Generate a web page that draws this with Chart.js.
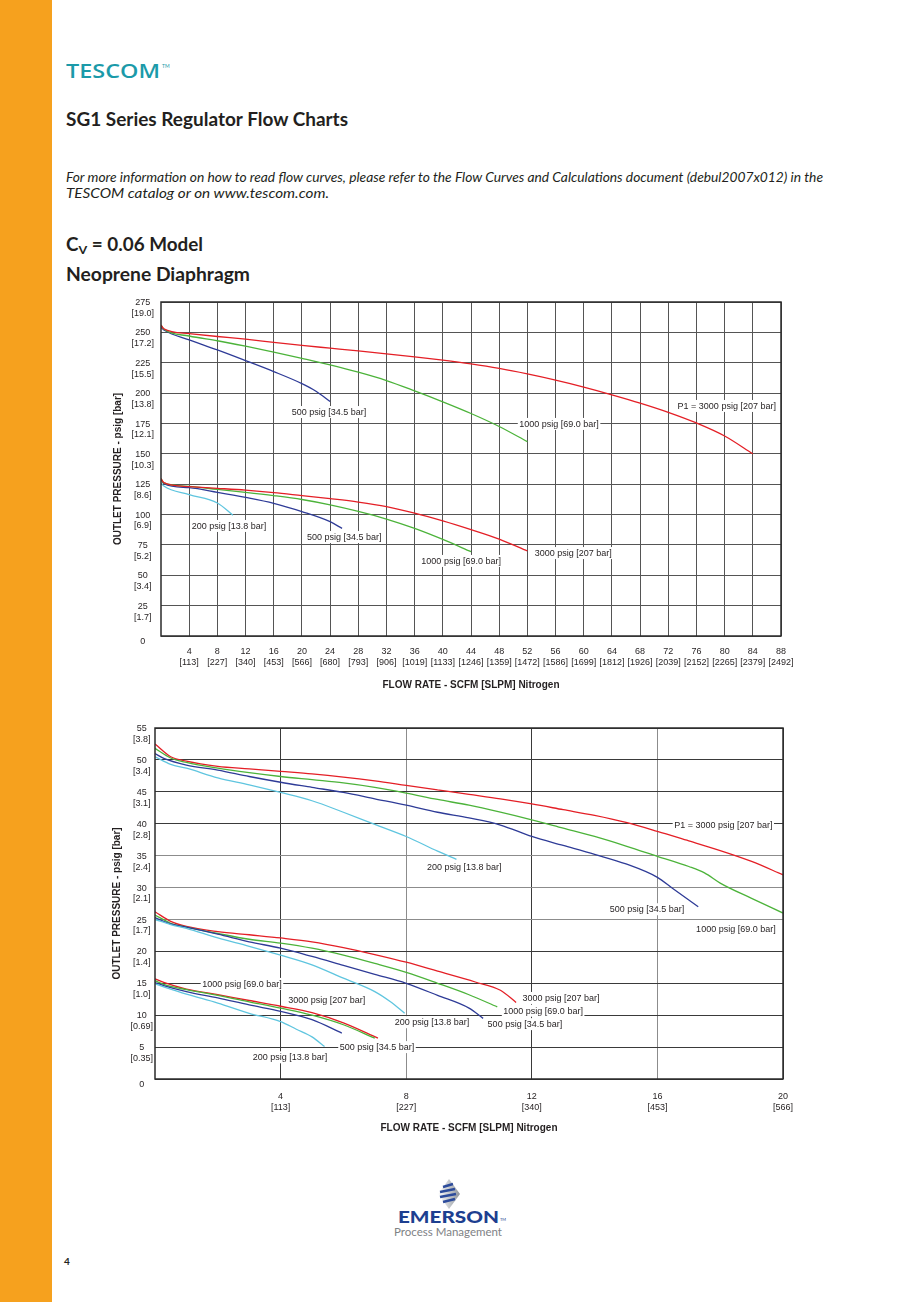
<!DOCTYPE html>
<html>
<head>
<meta charset="utf-8">
<script src="https://cdn.jsdelivr.net/npm/chart.js@4.4.0/dist/chart.umd.min.js"></script>
<style>
html, body { margin: 0; padding: 0; background: #fff; }
body { width: 920px; height: 1302px; position: relative; overflow: hidden; font-family: Lato, "Noto Sans", sans-serif; color: #231f20; }
#stripe { position: absolute; left: 0; top: 0; width: 52px; height: 1302px; background: #f6a11e; }
.t { position: absolute; white-space: nowrap; line-height: 1; transform-origin: 0 0; }
.h { font-weight: 700; font-size: 18px; }
.p { font-style: italic; font-size: 14px; font-weight: 400; }
.logo { font-family: "Open Sans", sans-serif; font-weight: 600; font-size: 20px; color: #1b9aa9; }
.box { position: absolute; }
</style>
</head>
<body>
<div id="stripe"></div>

<div class="t logo" style="left:66px;top:61px" data-w="94">TESCOM</div>
<div class="t" style="left:162px;top:64px;font-size:5px;color:#1b9aa9">TM</div>

<div class="t h" style="left:66px;top:110px" data-w="282">SG1 Series Regulator Flow Charts</div>

<div class="t p" style="left:66px;top:170px" data-w="757">For more information on how to read flow curves, please refer to the Flow Curves and Calculations document (debul2007x012) in the</div>
<div class="t p" style="left:66px;top:186px" data-w="263">TESCOM catalog or on www.tescom.com.</div>

<div class="t h" style="left:66px;top:235px" data-w="137">C<span style="font-size:12px;position:relative;top:3px">V</span> = 0.06 Model</div>
<div class="t h" style="left:66px;top:265px" data-w="184">Neoprene Diaphragm</div>

<div class="box" style="left:100px;top:292px;width:720px;height:410px"><canvas id="c1"></canvas></div>
<div class="box" style="left:100px;top:718px;width:720px;height:420px"><canvas id="c2"></canvas></div>

<svg style="position:absolute;left:436px;top:1178px" width="26" height="33">
  <defs>
    <linearGradient id="dg" x1="0" x2="1" y1="0" y2="0">
      <stop offset="0" stop-color="#ffffff"/>
      <stop offset="1" stop-color="#8e949c"/>
    </linearGradient>
  </defs>
  <polygon points="13,1 24,16 13,31 2,16" fill="url(#dg)"/>
  <g stroke="#2c4b9b" stroke-width="2.4">
    <line x1="7" y1="9" x2="17" y2="6"/>
    <line x1="4" y1="14" x2="19" y2="11"/>
    <line x1="4" y1="19" x2="20" y2="16"/>
    <line x1="7" y1="24" x2="19" y2="21"/>
  </g>
</svg>
<div class="t" style="left:398px;top:1208px;font-size:17px;font-weight:900;color:#1d3f90" data-w="101">EMERSON</div>
<div class="t" style="left:500px;top:1218px;font-size:4px;color:#1d3f90">TM</div>
<div class="t" style="left:394px;top:1226px;font-size:12px;color:#808285" data-w="108">Process Management</div>

<div class="t" style="left:64px;top:1256px;font-size:10px;font-weight:700">4</div>

<script>
// colours of the four inlet pressures
const RED = '#e41f26';
const GREEN = '#4cb33a';
const BLUE = '#2e3b97';
const CYAN = '#5fc5df';

// ---- chart 1 : 0-88 SCFM, 0-275 psig ----
const C1_SLPM = [113, 227, 340, 453, 566, 680, 793, 906, 1019, 1133, 1246, 1359, 1472, 1586, 1699, 1812, 1926, 2039, 2152, 2265, 2379, 2492];
const C1_BAR = ['', '1.7', '3.4', '5.2', '6.9', '8.6', '10.3', '12.1', '13.8', '15.5', '17.2', '19.0'];

const c1Red250 = [[0,256],[0.4,253],[4,249],[8,246.6],[12,244.4],[16,241.8],[20,239.3],[24,237],[28,234.7],[32,232.3],[36,229.8],[40,227.1],[44,224],[48,220.3],[52,215.8],[56,210.7],[60,205],[64,198.6],[68,191.8],[72,184.2],[76,175.4],[80,164.7],[84,150]];
const c1Green250 = [[0,256],[0.4,252.8],[4,247],[8,243.1],[12,238.6],[16,233.8],[20,228.6],[24,223.2],[28,217.2],[32,210.3],[36,201.8],[40,192.8],[44,183.2],[48,172.5],[52,160]];
const c1Blue250 = [[0,254],[0.4,252],[4,243.8],[8,235.5],[12,226.7],[16,217.7],[20,207.8],[22,201.5],[24,193]];
const c1Red125 = [[0,129.5],[0.4,126.3],[4,123],[8,121.6],[12,120.1],[16,118.1],[20,115.6],[24,113.1],[28,110.3],[32,106.6],[36,101.2],[40,94.8],[44,87.6],[48,79.8],[52,70]];
const c1Green125 = [[0,129.5],[0.4,126],[4,123.2],[8,120.7],[12,118.3],[16,115.6],[20,112.4],[24,108],[28,102.6],[32,96.3],[36,88.6],[40,79.5],[44,69.4]];
const c1Blue125 = [[0,129],[0.4,125.5],[4,122.1],[8,118.3],[12,114.1],[16,109.2],[20,102.4],[24,94.1],[25.7,88.6]];
const c1Cyan125 = [[0,126],[0.4,123.5],[4,116.4],[8,109.5],[10.2,99.5]];

const C1_NOTES = [
  ['500 psig [34.5 bar]', 23.85, 184.4],
  ['1000 psig [69.0 bar]', 56.5, 174.6],
  ['P1 = 3000 psig [207 bar]', 80.3, 189.4],
  ['200 psig [13.8 bar]', 9.65, 90.6],
  ['500 psig [34.5 bar]', 26, 81.5],
  ['1000 psig [69.0 bar]', 42.6, 61.8],
  ['3000 psig [207 bar]', 58.5, 68.3]
];

// ---- chart 2 : 0-20 SCFM, 0-55 psig ----
const C2_SLPM = [113, 227, 340, 453, 566];
const C2_BAR = ['', '0.35', '0.69', '1.0', '1.4', '1.7', '2.1', '2.4', '2.8', '3.1', '3.4', '3.8'];

const c2Red50 = [[0,52.5],[0.5,50.5],[1,49.8],[2,49],[3,48.6],[4,48.2],[5,47.8],[6,47.3],[7,46.7],[8,46],[9,45.3],[10,44.6],[11,43.9],[12,43.1],[13,42.2],[14,41.3],[15,40.2],[16,38.8],[17,37.3],[18,35.8],[19,34.1],[20,32]];
const c2Green50 = [[0,51.8],[0.5,50.3],[1,49.6],[2,48.7],[3,48],[4,47.4],[5,46.9],[6,46.4],[7,45.7],[8,44.8],[9,43.8],[10,42.9],[11,41.8],[12,40.6],[13,39.3],[14,38],[15,36.5],[16,34.9],[17,33.3],[17.5,32.3],[18,30.7],[19,28.3],[20,26]];
const c2Blue50 = [[0,51],[0.3,50.2],[1,49.2],[2,48.4],[3,47.4],[4,46.5],[5,45.7],[6,44.9],[7,43.9],[8,42.9],[9,41.8],[10,40.9],[11,39.8],[12,38],[13,36.6],[14,35.2],[15,33.7],[16,31.6],[16.5,29.8],[17.3,27]];
const c2Cyan50 = [[0,50.5],[0.5,49.3],[1,48.7],[2,47.2],[3,46.1],[4,44.9],[5,43.6],[6,41.8],[7,39.9],[8,38],[9,35.7],[9.6,34.4]];
const c2Red25 = [[0,26.2],[0.5,24.7],[1,23.9],[2,23.1],[3,22.6],[4,22.1],[5,21.5],[6,20.6],[7,19.5],[8,18.3],[9,16.9],[10.2,15.2],[11,13.9],[11.5,12]];
const c2Green25 = [[0,25.7],[0.5,24.4],[1,23.8],[2,22.8],[3,21.9],[4,21.3],[5,20.5],[6,19.4],[7,18.1],[8,16.7],[9,15],[10,13.2],[10.9,11.3]];
const c2Blue25 = [[0,25.3],[0.5,24.3],[1,23.8],[2,22.7],[3,21.5],[4,20.5],[5,19.2],[6,17.8],[7,16.4],[8,15],[9,13.1],[10,11.1],[10.45,9.5]];
const c2Cyan25 = [[0,25],[0.5,24.2],[1,23.6],[2,22.1],[3,20.8],[4,19.4],[5,17.9],[6,15.8],[7,13.7],[7.5,12.1],[7.95,10.3]];
const c2Red15 = [[0,15.7],[0.3,15.1],[1,14.1],[2,13.2],[3,12.3],[4,11.4],[5,10.4],[6,8.8],[7.1,6.4]];
const c2Green15 = [[0,15.4],[0.3,14.8],[1,14],[2,13.1],[3,12.1],[4,11.1],[5,10],[6,8.5],[7,6.4]];
const c2Blue15 = [[0,15.1],[0.3,14.6],[1,13.7],[2,12.7],[3,11.6],[4,10.6],[5,9.3],[5.95,7.2]];
const c2Cyan15 = [[0,14.9],[0.3,14.4],[1,13.3],[2,11.9],[3,10.3],[4,9],[4.5,7.8],[5,6.6],[5.4,5.1]];

const C2_NOTES = [
  ['P1 = 3000 psig [207 bar]', 18.1, 39.8],
  ['200 psig [13.8 bar]', 9.85, 33.2],
  ['500 psig [34.5 bar]', 15.67, 26.6],
  ['1000 psig [69.0 bar]', 18.5, 23.5],
  ['1000 psig [69.0 bar]', 2.77, 14.9],
  ['3000 psig [207 bar]', 5.47, 12.4],
  ['200 psig [13.8 bar]', 8.82, 8.9],
  ['500 psig [34.5 bar]', 7.07, 5.0],
  ['200 psig [13.8 bar]', 4.3, 3.4],
  ['3000 psig [207 bar]', 12.93, 12.7],
  ['1000 psig [69.0 bar]', 12.36, 10.7],
  ['500 psig [34.5 bar]', 11.78, 8.6]
];

Chart.defaults.font.family = '"Liberation Sans", Arial, sans-serif';
Chart.defaults.color = '#231f20';

// text labels on white boxes + heavy frame round the plot
const notesPlugin = {
  id: 'notes',
  afterDatasetsDraw(chart, args, opts) {
    const { ctx, chartArea: a, scales: { x, y } } = chart;
    ctx.save();
    ctx.font = '9px "Liberation Sans", Arial, sans-serif';
    ctx.textAlign = 'center';
    ctx.textBaseline = 'middle';
    (opts.items || []).forEach(([text, vx, vy]) => {
      const px = x.getPixelForValue(vx);
      const py = y.getPixelForValue(vy);
      const w = ctx.measureText(text).width;
      ctx.fillStyle = '#fff';
      ctx.fillRect(px - w / 2 - 1.5, py - 6, w + 3, 12);
      ctx.fillStyle = '#231f20';
      ctx.fillText(text, px, py + 0.5);
    });
    ctx.strokeStyle = '#2b2b2b';
    ctx.lineWidth = 1.5;
    ctx.strokeRect(a.left, a.top, a.right - a.left, a.bottom - a.top);
    ctx.restore();
  }
};

function toDatasets(list) {
  return list.map(([pts, color]) => ({
    data: pts.map(([x, y]) => ({ x, y })),
    borderColor: color,
    borderWidth: 1.3,
    pointRadius: 0,
    showLine: true,
    fill: false,
    cubicInterpolationMode: 'monotone'
  }));
}

function flowChart(id, o) {
  return new Chart(document.getElementById(id), {
    type: 'scatter',
    data: { datasets: toDatasets(o.series) },
    plugins: [notesPlugin],
    options: {
      responsive: true,
      maintainAspectRatio: false,
      devicePixelRatio: 1,
      animation: false,
      layout: { padding: { top: 10, right: o.padRight, left: 0, bottom: 0 } },
      plugins: {
        legend: { display: false },
        tooltip: { enabled: false },
        notes: { items: o.notes }
      },
      scales: {
        x: {
          type: 'linear', min: 0, max: o.xMax,
          afterFit: (s) => { s.height = o.xHeight; s.paddingLeft = 0; s.paddingRight = 0; },
          border: { display: false },
          grid: { color: o.xGrid, lineWidth: 1, drawTicks: false },
          ticks: {
            stepSize: o.xStep, autoSkip: false, maxRotation: 0, minRotation: 0,
            padding: o.xPad, font: { size: 9 },
            callback: (v) => v === 0 ? null : [String(v), '[' + o.slpm[v / o.xStep - 1] + ']']
          },
          title: {
            display: true, text: 'FLOW RATE - SCFM [SLPM] Nitrogen',
            font: { size: 10, weight: 'bold' }, padding: { top: 0, bottom: o.xTitlePad }
          }
        },
        y: {
          type: 'linear', min: 0, max: o.yMax,
          afterFit: (s) => { s.width = o.yWidth; s.paddingTop = 0; s.paddingBottom = 0; },
          border: { display: false },
          grid: { color: o.yGrid, lineWidth: 1, drawTicks: false },
          ticks: {
            stepSize: o.yStep, crossAlign: 'center', padding: o.yPad, labelOffset: 6,
            font: { size: 9 },
            callback: (v) => v === 0 ? '0' : [String(v), '[' + o.bar[v / o.yStep] + ']']
          },
          title: {
            display: true, text: 'OUTLET PRESSURE - psig [bar]',
            font: { size: 10, weight: 'bold' }, padding: { top: o.yTitlePad, bottom: 0 }
          }
        }
      }
    }
  });
}

flowChart('c1', {
  series: [
    [c1Red250, RED], [c1Green250, GREEN], [c1Blue250, BLUE],
    [c1Red125, RED], [c1Green125, GREEN], [c1Blue125, BLUE], [c1Cyan125, CYAN]
  ],
  notes: C1_NOTES,
  xMax: 88, xStep: 4, slpm: C1_SLPM,
  yMax: 275, yStep: 25, bar: C1_BAR,
  padRight: 39, xHeight: 66, yWidth: 61,
  xPad: 10.5, yPad: 7, xTitlePad: 11, yTitlePad: 12,
  xGrid: '#555', yGrid: '#555'
});

flowChart('c2', {
  series: [
    [c2Cyan50, CYAN], [c2Blue50, BLUE], [c2Green50, GREEN], [c2Red50, RED],
    [c2Cyan25, CYAN], [c2Blue25, BLUE], [c2Green25, GREEN], [c2Red25, RED],
    [c2Cyan15, CYAN], [c2Blue15, BLUE], [c2Green15, GREEN], [c2Red15, RED]
  ],
  notes: C2_NOTES,
  xMax: 20, xStep: 4, slpm: C2_SLPM,
  yMax: 55, yStep: 5, bar: C2_BAR,
  padRight: 37, xHeight: 59, yWidth: 55,
  xPad: 12.5, yPad: 2, xTitlePad: 4, yTitlePad: 11,
  xGrid: (c) => [8, 16].includes(c.tick.value) ? '#8c8c8c' : '#3a3a3a',
  yGrid: (c) => [25, 30, 35].includes(c.tick.value) ? '#8c8c8c' : '#3a3a3a'
});

// squeeze the page texts to the widths they have on the printed sheet
document.querySelectorAll('[data-w]').forEach((el) => {
  const w = el.getBoundingClientRect().width;
  el.style.transform = 'scaleX(' + (+el.dataset.w / w) + ')';
});
</script>
</body>
</html>
